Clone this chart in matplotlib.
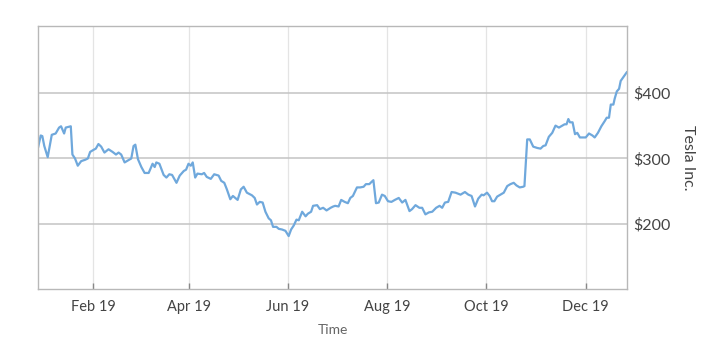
import matplotlib
matplotlib.use("Agg")
import matplotlib.pyplot as plt
import matplotlib.dates as mdates
from matplotlib.ticker import FuncFormatter
import pandas as pd

# closing price, days counted from 1 Jan 2019
days = [-2.6, -1.1, -0.1, 1.1, 3.2, 5.7, 8.1, 10.2, 11.4, 13.3, 14.3, 17.4, 18.4, 20.0,
        21.7, 23.8, 26.2, 27.9, 29.3, 31.3, 32.8, 34.4, 36.1, 38.1, 40.6, 43.1, 45.2,
        46.8, 48.4, 50.5, 52.6, 54.6, 56.0, 57.1, 58.7, 60.8, 62.8, 65.3, 67.7, 69.0,
        70.0, 71.9, 74.5, 76.2, 78.0, 79.7, 82.4, 84.4, 86.9,
        88.3, 89.8, 91.2, 92.4, 93.9, 95.3, 98.0, 99.4, 101.0, 103.5, 105.6, 108.3,
        109.9, 111.8, 113.4, 115.5, 117.1, 118.6, 120.0, 122.0, 123.7, 125.7, 128.8,
        130.5, 131.9, 133.6, 135.4, 137.1, 139.1, 140.5, 141.8, 143.9, 145.3, 147.3,
        149.4, 151.4, 152.9, 154.5, 156.2, 157.6, 159.7, 161.8, 163.2, 165.2, 166.4,
        168.9, 170.6, 172.6, 174.7, 177.2, 178.8,
        180.0, 182.1, 183.7, 185.8, 187.8, 189.3, 190.9, 193.4, 195.4, 197.5, 198.9,
        201.0, 202.2, 203.5, 205.1, 206.8, 208.8, 210.5, 212.5, 214.6, 216.7, 219.1,
        221.2, 223.2, 225.7, 227.3, 229.4, 231.8, 233.5, 235.5, 237.6, 239.7, 242.1,
        244.2, 245.8, 247.5, 249.5, 251.6, 254.0, 257.1, 259.8, 261.9, 263.9, 266.0,
        268.0, 270.1,
        271.3, 273.4, 275.0, 276.5, 277.9, 279.6, 281.6, 283.7, 285.8, 287.8, 289.8,
        291.5, 293.5, 295.6, 296.4, 298.1, 299.7, 301.8, 304.3, 306.3, 308.0, 309.4,
        311.4, 313.5, 315.5, 317.6, 319.7, 321.1, 322.3, 323.4, 324.4, 326.0, 327.5,
        328.9, 330.5, 332.6, 334.1, 336.1, 338.2, 339.6, 341.6, 343.7, 345.8, 347.0,
        348.4, 349.5, 351.1, 351.9, 353.2, 354.6, 355.6, 357.3, 359.3]

price = [318, 335, 334, 319, 302, 336, 338, 347, 349, 338, 347, 349, 306, 300,
         289, 296, 298, 300, 310, 313, 315, 322, 318, 309, 314, 310, 306,
         309, 306, 294, 297, 300, 319, 321, 299, 287, 278, 278, 292, 287,
         294, 292, 275, 271, 276, 275, 263, 274, 281,
         283, 292, 289, 294, 271, 277, 276, 278, 272, 269, 276, 274,
         266, 263, 253, 238, 243, 240, 237, 253, 257, 248, 244,
         240, 230, 234, 233, 219, 209, 206, 196, 196, 193, 192,
         190, 182, 192, 198, 207, 206, 219, 212, 216, 219, 228,
         229, 223, 225, 221, 225, 227,
         228, 227, 237, 234, 232, 240, 243, 256, 256, 257, 261,
         261, 264, 267, 232, 233, 245, 243, 235, 234, 237, 240,
         233, 237, 220, 223, 229, 225, 225, 215, 218, 219, 225,
         228, 225, 233, 234, 249, 248, 245, 249, 245, 243, 227,
         239, 245,
         244, 248, 243, 235, 235, 242, 245, 248, 258, 261, 263,
         259, 256, 257, 258, 329, 329, 318, 316, 315, 319, 320,
         333, 339, 350, 347, 350, 352, 352, 360, 355, 355, 337,
         339, 332, 332, 332, 338, 335, 332, 339, 349, 357, 362,
         362, 382, 382, 391, 402, 406, 418, 424, 431]

dates = pd.Timestamp("2019-01-01") + pd.to_timedelta(days, unit="D")

plt.rcParams["font.family"] = ["Lato", "DejaVu Sans"]

fig = plt.figure(figsize=(7.10, 3.39), dpi=100)
ax = fig.add_axes([0.0539, 0.1475, 0.8288, 0.7758])

ax.plot(dates, price, color="#6fa8dc", linewidth=1.6, solid_joinstyle="round")

ax.set_xlim(dates[0], dates[-1])
ax.set_ylim(101.5, 501.5)

# y axis on the right with dollar labels
ax.yaxis.tick_right()
ax.yaxis.set_label_position("right")
ax.set_yticks([200, 300, 400])
ax.yaxis.set_major_formatter(FuncFormatter(lambda v, p: f"${v:.0f}"))
ax.tick_params(axis="y", length=0, pad=5, labelsize=11.5, labelcolor="#444444")

ax.xaxis.set_major_locator(mdates.MonthLocator(bymonth=[2, 4, 6, 8, 10, 12]))
ax.xaxis.set_major_formatter(mdates.DateFormatter("%b %y"))
ax.tick_params(axis="x", direction="in", length=4, width=1, color="#888888",
               pad=8, labelsize=10.5, labelcolor="#444444")

ax.grid(axis="y", color="#c4c4c4", linewidth=1.1)
ax.grid(axis="x", color="#e4e4e4", linewidth=0.9)
ax.set_axisbelow(True)

for s in ax.spines.values():
    s.set_color("#b8b8b8")
    s.set_linewidth(1.0)

ax.set_xlabel("Time", fontsize=10, color="#666666", labelpad=7)
ax.set_ylabel("Tesla Inc.", fontsize=11.5, color="#444444", rotation=270,
              labelpad=17)

fig.savefig("out.png", dpi=100)
